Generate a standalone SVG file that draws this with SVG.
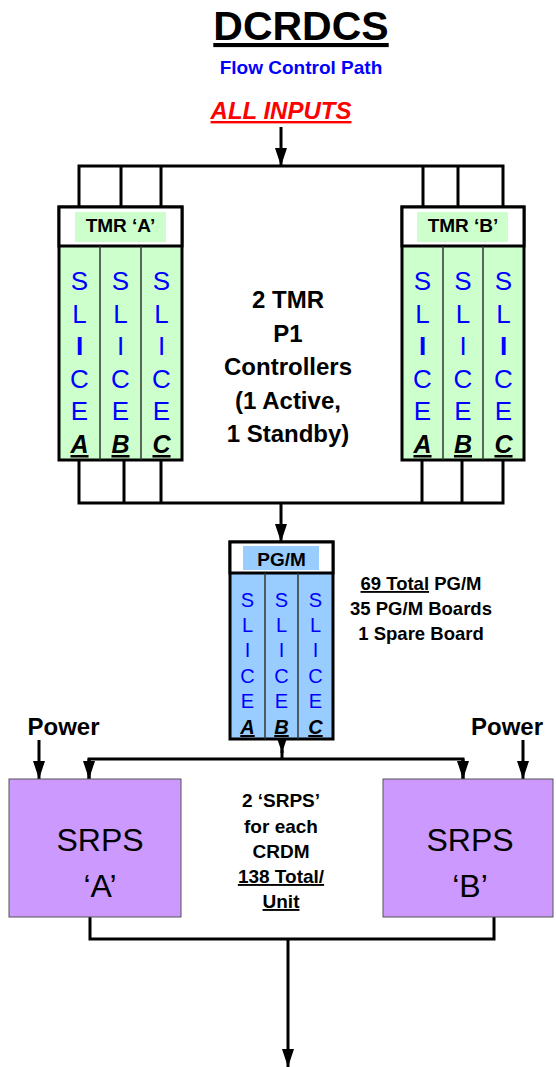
<svg xmlns="http://www.w3.org/2000/svg" width="556" height="1067" viewBox="0 0 556 1067">
<style>
.b{font-family:"Liberation Sans",Arial,sans-serif;font-weight:bold;fill:#000;text-anchor:middle}
.sl{font-family:"Liberation Sans",Arial,sans-serif;fill:#0000ff;text-anchor:middle;font-size:26px}
.slp{font-family:"Liberation Sans",Arial,sans-serif;fill:#0000ff;text-anchor:middle;font-size:20px}
.bi{font-weight:bold}
.ltr{font-family:"Liberation Sans",Arial,sans-serif;font-weight:bold;font-style:italic;fill:#000;text-anchor:middle;text-decoration:underline}
.u{text-decoration:underline}
.conn{fill:none;stroke:#000;stroke-width:3}
.box{stroke:#000;stroke-width:3}
.div{stroke:#333;stroke-width:1.5}
.srps{fill:#cc99ff;stroke:#555;stroke-width:1}
.big{font-family:"Liberation Sans",Arial,sans-serif;font-size:32px;fill:#000;text-anchor:middle}
</style>
<defs>
<marker id="ah" viewBox="0 0 18 12" refX="18" refY="6" markerWidth="18" markerHeight="12" markerUnits="userSpaceOnUse" orient="auto">
<path d="M0,0 L18,6 L0,12 z" fill="#000"/>
</marker>
</defs>

<g id="title">
<text class="b u" x="301" y="40" font-size="41">DCRDCS</text>
<text class="b" x="301" y="74" font-size="19" style="fill:#0000ff">Flow Control Path</text>
</g>
<g id="inputs">
<text class="b u" x="281" y="119" font-size="24" font-style="italic" style="fill:#ff0000">ALL INPUTS</text>
</g>

<g id="connectors">
<line class="conn" x1="281" y1="127" x2="281" y2="166" marker-end="url(#ah)"/>
<path class="conn" d="M79,207 V166 H503 V207 M121,166 V207 M161,166 V207 M423,166 V207 M458,166 V207"/>
<path class="conn" d="M79,460 V503 H503 V460 M124,460 V503 M161,460 V503 M422,460 V503 M462,460 V503"/>
<line class="conn" x1="281" y1="503" x2="281" y2="542" marker-end="url(#ah)"/>
<line class="conn" x1="282" y1="739" x2="282" y2="753" marker-end="url(#ah)"/>
<path class="conn" d="M282,750 V759"/>
<path class="conn" d="M89,779 V759 H463 V779" marker-start="none"/>
<line class="conn" x1="89" y1="759" x2="89" y2="779" marker-end="url(#ah)"/>
<line class="conn" x1="463" y1="759" x2="463" y2="779" marker-end="url(#ah)"/>
<line class="conn" x1="39" y1="740" x2="39" y2="779" marker-end="url(#ah)"/>
<line class="conn" x1="523" y1="740" x2="523" y2="779" marker-end="url(#ah)"/>
<path class="conn" d="M90,917 V939 H494 V917"/>
<line class="conn" x1="288" y1="939" x2="288" y2="1067" marker-end="url(#ah)"/>
</g>

<g id="tmrA">
<rect class="box" x="59" y="207" width="123" height="253" fill="#ccffcc"/>
<rect class="box" x="59" y="207" width="123" height="39" fill="#fff"/>
<rect x="75" y="212" width="91" height="30" fill="#ccffcc"/>
<text class="b" x="120.5" y="232" font-size="19">TMR ‘A’</text>
<line class="div" x1="100" y1="246" x2="100" y2="460"/>
<line class="div" x1="141" y1="246" x2="141" y2="460"/>
<g class="sl">
<text x="79.5" y="290">S</text><text x="79.5" y="323">L</text><text x="79.5" y="355" class="bi">I</text><text x="79.5" y="388">C</text><text x="79.5" y="420">E</text>
<text x="120.5" y="290">S</text><text x="120.5" y="323">L</text><text x="120.5" y="355">I</text><text x="120.5" y="388">C</text><text x="120.5" y="420">E</text>
<text x="161.5" y="290">S</text><text x="161.5" y="323">L</text><text x="161.5" y="355">I</text><text x="161.5" y="388">C</text><text x="161.5" y="420">E</text>
</g>
<text class="ltr" x="79.5" y="453" font-size="25">A</text>
<text class="ltr" x="120.5" y="453" font-size="25">B</text>
<text class="ltr" x="161.5" y="453" font-size="25">C</text>
</g>

<g id="tmrB">
<rect class="box" x="402" y="207" width="122" height="253" fill="#ccffcc"/>
<rect class="box" x="402" y="207" width="122" height="39" fill="#fff"/>
<rect x="417" y="212" width="91" height="30" fill="#ccffcc"/>
<text class="b" x="463" y="232" font-size="19">TMR ‘B’</text>
<line class="div" x1="443" y1="246" x2="443" y2="460"/>
<line class="div" x1="483" y1="246" x2="483" y2="460"/>
<g class="sl">
<text x="422.5" y="290">S</text><text x="422.5" y="323">L</text><text x="422.5" y="355" class="bi">I</text><text x="422.5" y="388">C</text><text x="422.5" y="420">E</text>
<text x="463" y="290">S</text><text x="463" y="323">L</text><text x="463" y="355">I</text><text x="463" y="388">C</text><text x="463" y="420">E</text>
<text x="503.5" y="290">S</text><text x="503.5" y="323">L</text><text x="503.5" y="355" class="bi">I</text><text x="503.5" y="388">C</text><text x="503.5" y="420">E</text>
</g>
<text class="ltr" x="422.5" y="453" font-size="25">A</text>
<text class="ltr" x="463" y="453" font-size="25">B</text>
<text class="ltr" x="503.5" y="453" font-size="25">C</text>
</g>

<g id="tmrText">
<text class="b" font-size="24"><tspan x="288" y="308">2 TMR</tspan><tspan x="288" y="342">P1</tspan><tspan x="288" y="375">Controllers</tspan><tspan x="288" y="409">(1 Active,</tspan><tspan x="288" y="442">1 Standby)</tspan></text>
</g>

<g id="pgm">
<rect class="box" x="230" y="542" width="103" height="197" fill="#99ccff"/>
<rect class="box" x="230" y="542" width="103" height="31" fill="#fff"/>
<rect x="243" y="546" width="76" height="24" fill="#99ccff"/>
<text class="b" x="281.5" y="566" font-size="19">PG/M</text>
<line class="div" x1="265" y1="573" x2="265" y2="739"/>
<line class="div" x1="298" y1="573" x2="298" y2="739"/>
<g class="slp">
<text x="247.5" y="607">S</text><text x="247.5" y="632">L</text><text x="247.5" y="657">I</text><text x="247.5" y="683">C</text><text x="247.5" y="708">E</text>
<text x="281.5" y="607">S</text><text x="281.5" y="632">L</text><text x="281.5" y="657">I</text><text x="281.5" y="683">C</text><text x="281.5" y="708">E</text>
<text x="315.5" y="607">S</text><text x="315.5" y="632">L</text><text x="315.5" y="657">I</text><text x="315.5" y="683">C</text><text x="315.5" y="708">E</text>
</g>
<text class="ltr" x="247.5" y="734" font-size="20">A</text>
<text class="ltr" x="281.5" y="734" font-size="20">B</text>
<text class="ltr" x="315.5" y="734" font-size="20">C</text>
</g>

<g id="pgmText">
<text class="b" font-size="18.5"><tspan x="421" y="590"><tspan class="u">69 Total</tspan> PG/M</tspan><tspan x="421" y="615">35 PG/M Boards</tspan><tspan x="421" y="640">1 Spare Board</tspan></text>
</g>

<g id="powerA"><text class="b" x="63.5" y="735" font-size="24">Power</text></g>
<g id="powerB"><text class="b" x="507" y="735" font-size="24">Power</text></g>

<g id="srpsA">
<rect class="srps" x="9" y="779" width="172" height="138"/>
<text class="big" x="100" y="851">SRPS</text>
<text class="big" x="100" y="897">‘A’</text>
</g>
<g id="srpsB">
<rect class="srps" x="383" y="779" width="170" height="138"/>
<text class="big" x="470" y="851">SRPS</text>
<text class="big" x="470" y="897">‘B’</text>
</g>

<g id="srpsText">
<text class="b" font-size="19"><tspan x="281" y="807">2 ‘SRPS’</tspan><tspan x="281" y="833">for each</tspan><tspan x="281" y="858">CRDM</tspan><tspan x="281" y="883" class="u">138 Total/</tspan><tspan x="281" y="908" class="u">Unit</tspan></text>
</g>
</svg>
